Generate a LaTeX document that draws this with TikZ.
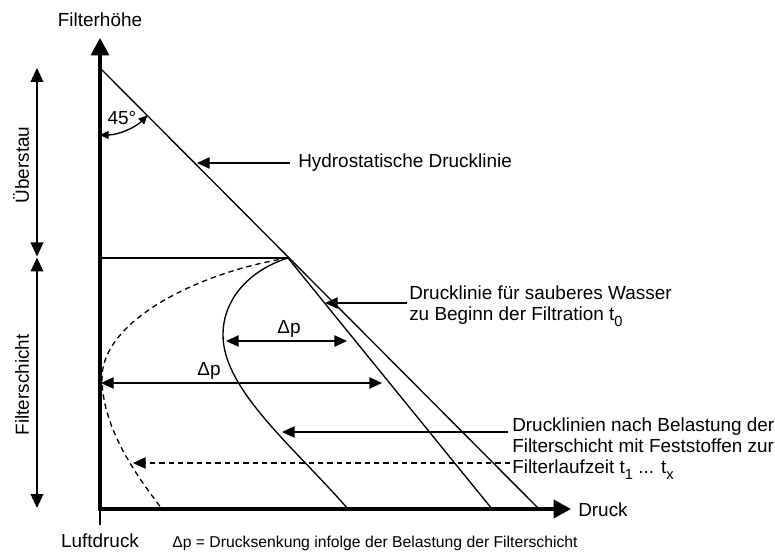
\documentclass[tikz,border=0pt]{standalone}
\usepackage{fontspec}
\setmainfont{Liberation Sans}
\usetikzlibrary{arrows.meta}
\newcommand\mysub[1]{\raisebox{-0.32em}{\fontsize{11}{11}\selectfont #1}}
\begin{document}
\begin{tikzpicture}[x=0.75pt,y=-0.75pt,
  lbl/.style={font=\fontsize{14.2}{15.5}\selectfont, inner sep=0pt},
  small/.style={font=\fontsize{11.8}{14}\selectfont, inner sep=0pt},
  ln/.style={line width=1pt},
  axisline/.style={line width=2.5pt, line join=miter, {Triangle[length=13pt,width=13.5pt]}-{Triangle[length=13pt,width=13.5pt]}},
  ptr/.style={line width=1pt, -{Triangle[length=9.5pt,width=8.5pt]}},
  dimarrow/.style={line width=1.1pt, {Triangle[length=10.5pt,width=9.5pt]}-{Triangle[length=10.5pt,width=9.5pt]}},
  dparrow/.style={line width=1pt, {Triangle[length=9.5pt,width=8.5pt]}-{Triangle[length=9.5pt,width=8.5pt]}},
  arcarrow/.style={line width=1pt, {Triangle[length=6.5pt,width=6pt]}-{Triangle[length=6.5pt,width=6pt]}},
  dsh/.style={dash pattern=on 4pt off 3pt}
]
\useasboundingbox (0,0) rectangle (775,552);

% key points
\coordinate (O) at (100,509);
\coordinate (Ytop) at (100,38);
\coordinate (Xend) at (571,509);
\coordinate (Tick) at (100,525);
\coordinate (A) at (100,68);
\coordinate (P) at (288,258);
\coordinate (L) at (100,258);
\coordinate (H) at (539,509);
\coordinate (C) at (492,509);
\coordinate (S) at (348,509);
\coordinate (D) at (162,509);

% axes
\draw[axisline] (Ytop) -- (O) -- (Xend);
\draw[ln] (O) -- (Tick);

% lines
\draw[ln] (A) -- (H);
\draw[ln] (L) -- (P);
\draw[ln] (P) -- (C);
\draw[ln] (P) .. controls (255,268) and (223,295) .. (223,335)
              .. controls (223,390) and (295,448) .. (S);
\draw[ln,dsh] (P) .. controls (200,272) and (102,320) .. (102,378)
              .. controls (102,430) and (140,480) .. (D);

% 45 degree arc
\coordinate (arcS) at (100,135);
\coordinate (arcE) at (147.4,115.4);
\draw[arcarrow] (arcS) .. controls (117.8,135) and (134.8,128) .. (arcE);
\node[lbl] (ang) at (122,118) {45°};

% axis labels
\node[lbl] (ylab) at (100,20) {Filterhöhe};
\node[lbl, anchor=west] (xlab) at (578,510) {Druck};
\node[lbl] (luft) at (100,541) {Luftdruck};
\node[small, anchor=west] (foot) at (172,543) {Δp = Drucksenkung infolge der Belastung der Filterschicht};

% left dimension arrows
\coordinate (u1) at (37,68);
\coordinate (u2) at (37,256.5);
\coordinate (f1) at (37,257.5);
\coordinate (f2) at (37,508);
\draw[dimarrow] (u1) -- (u2);
\draw[dimarrow] (f1) -- (f2);
\node[lbl, rotate=90] (ueb) at (21,165) {Überstau};
\node[lbl, rotate=90] (fs) at (22,385) {Filterschicht};

% hydrostatic annotation
\node[lbl, anchor=west] (thyd) at (298,163) {Hydrostatische Drucklinie};
\coordinate (hydS) at (290,163);
\coordinate (hydT) at (197,163);
\draw[ptr] (hydS) -- (hydT);

% clean water annotation
\node[lbl, anchor=north west, align=left] (tclean) at (409,286) {Drucklinie für sauberes Wasser\\zu Beginn der Filtration t\mysub{0}};
\coordinate (clS) at (407,303);
\coordinate (clT) at (325,303);
\draw[ptr] (clS) -- (clT);

% loaded annotation
\node[lbl, anchor=north west, align=left] (tload) at (512,418) {Drucklinien nach Belastung der\\Filterschicht mit Feststoffen zur\\Filterlaufzeit t\mysub{1} ... t\mysub{x}};
\coordinate (ldS) at (508,432);
\coordinate (ldT) at (282,432);
\draw[ptr] (ldS) -- (ldT);
\coordinate (ddS) at (510,463);
\coordinate (ddT) at (133,463);
\draw[ptr,dsh] (ddS) -- (ddT);

% delta p arrows
\coordinate (d1a) at (226,341);
\coordinate (d1b) at (347,341);
\coordinate (d2a) at (101,383);
\coordinate (d2b) at (382,383);
\draw[dparrow] (d1a) -- (d1b);
\draw[dparrow] (d2a) -- (d2b);
\node[lbl] (dp1) at (289,329) {Δp};
\node[lbl] (dp2) at (209,371) {Δp};
\end{tikzpicture}
\end{document}
